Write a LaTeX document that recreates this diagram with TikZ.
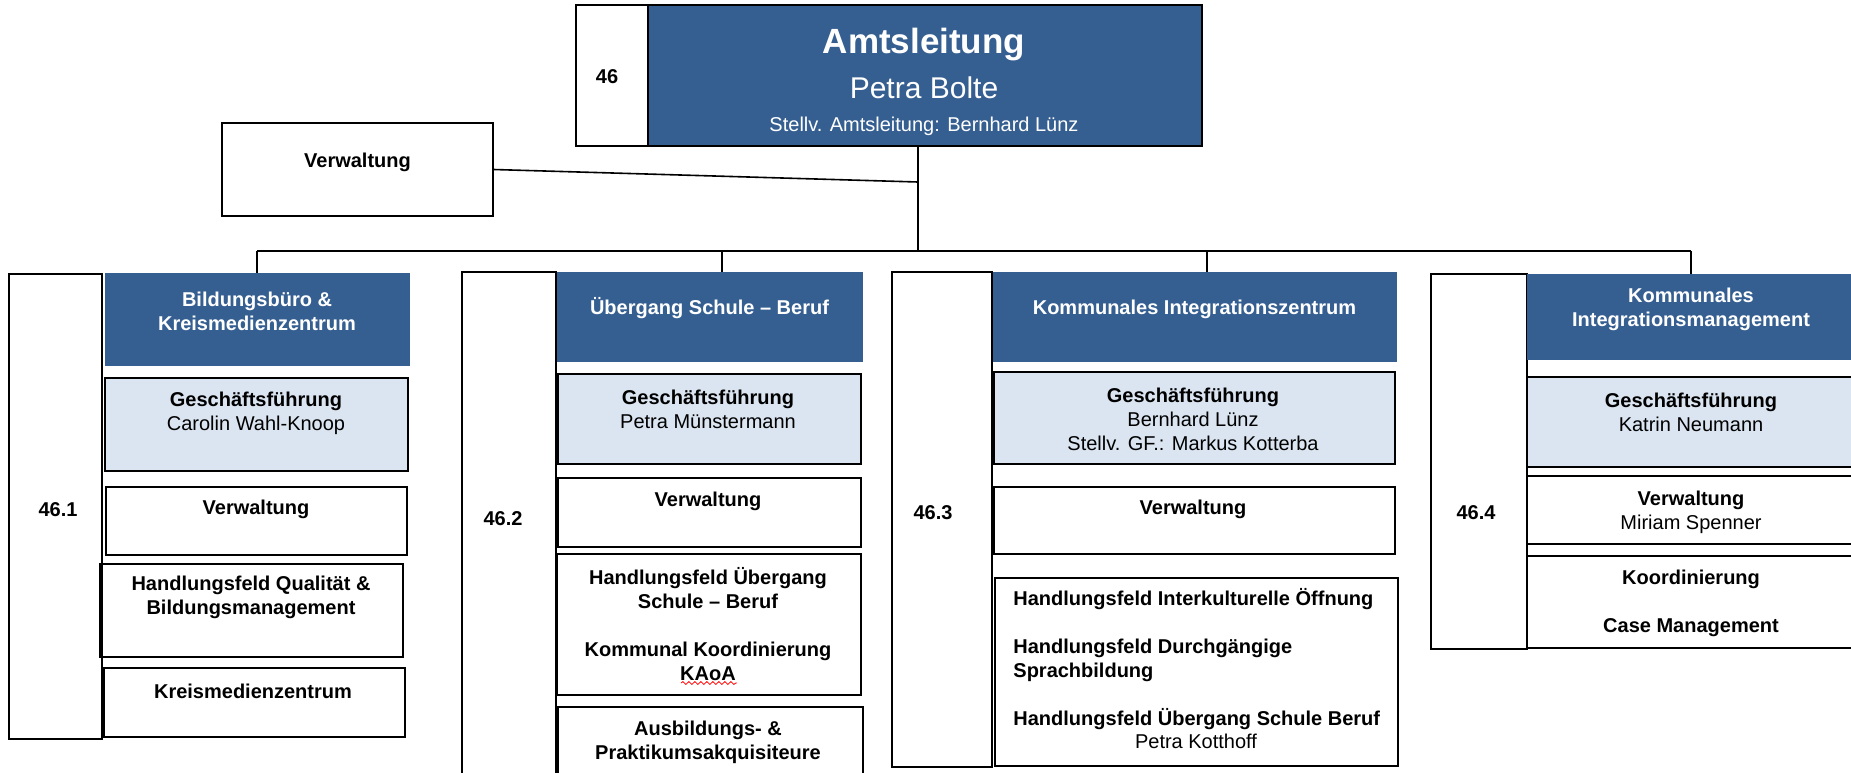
\documentclass[tikz,border=0pt]{standalone}
\usepackage{fontspec}
\setmainfont{Liberation Sans}
\usetikzlibrary{fit,decorations.pathmorphing}
\definecolor{amtblue}{HTML}{365F91}
\definecolor{gfblue}{HTML}{DBE5F1}
\begin{document}
\begin{tikzpicture}[x=0.5pt, y=-0.5pt,
  box/.style={draw, line width=0.7pt, inner sep=0pt},
  gfbox/.style={box, fill=gfblue},
  head/.style={fill=amtblue, draw=amtblue, inner sep=0pt, text=white,
    font=\bfseries, align=center},
  txt/.style={align=center},
  num/.style={font=\bfseries},
  link/.style={line width=0.8pt},
  drop/.style={line width=1.3pt}]
\useasboundingbox (0, 0) rectangle (1851, 772);
\clip (0, 0) rectangle (1851, 772);
\fill[white] (0, 0) rectangle (1851, 772);

% Amtsleitung
\node (n46) [box, fit={(576, 5) (648, 146)}] {};
\node (n46t) at (607, 77) [num] {46};
\node (amt) [box, fill=amtblue, fit={(648, 5) (1202, 146)}] {};
\node (amt1) at (924, 53) [anchor=base, text=white, font=\fontsize{17.5}{20}\selectfont\bfseries] {Amtsleitung};
\node (amt2) at (924, 98) [anchor=base, text=white, font=\fontsize{15}{18}\selectfont] {Petra Bolte};
\node (amt3) at (924, 131) [anchor=base, text=white] {Stellv. Amtsleitung: Bernhard Lünz};
\node (verw) [box, fit={(222, 123) (493, 216)}, font=\bfseries] {Verwaltung};

% 46.1
\node (num1) [box, fit={(9, 274) (102, 739)}] {};
\node (num1t) at (58, 510) [num] {46.1};
\node (h1) [head, fit={(105, 273) (409, 365)}] {Bildungsbüro \&\\Kreismedienzentrum};
\node (gf1) [gfbox, fit={(105, 378) (408, 471)}] {};
\node (gf1t) at (256, 413) [txt] {\textbf{Geschäftsführung}\\Carolin Wahl-Knoop};
\node (vw1) [box, fit={(106, 487) (407, 555)}] {};
\node (vw1t) at (256, 509) [txt, font=\bfseries] {Verwaltung};
\node (hq1) [box, fit={(100, 564) (403, 657)}] {};
\node (hq1t) at (251, 597) [txt, font=\bfseries] {Handlungsfeld Qualität \&\\Bildungsmanagement};
\node (km1) [box, fit={(104, 668) (405, 737)}] {};
\node (km1t) at (253, 691) [txt, font=\bfseries] {Kreismedienzentrum};

% 46.2
\node (num2) [box, fit={(462, 272) (556, 800)}] {};
\node (num2t) at (503, 519) [num] {46.2};
\node (h2) [head, fit={(557, 272) (862, 361)}] {Übergang Schule – Beruf};
\node (gf2) [gfbox, fit={(558, 374) (861, 464)}] {};
\node (gf2t) at (708, 409) [txt] {\textbf{Geschäftsführung}\\Petra Münstermann};
\node (vw2) [box, fit={(558, 478) (861, 547)}] {};
\node (vw2t) at (708, 501) [txt, font=\bfseries] {Verwaltung};
\node (hs2) [box, fit={(557, 554) (861, 695)}] {};
\node (hs2t) at (708, 624) [txt, font=\bfseries] {Handlungsfeld Übergang\\Schule – Beruf\\[12pt]Kommunal Koordinierung\\KAoA};
\draw[red, line width=0.4pt, decorate, decoration={snake, amplitude=0.7pt, segment length=3pt}] (681, 683) -- (737, 683);
\node (ab2) [box, fit={(558, 707) (863, 800)}] {};
\node (ab2t) at (708, 742) [txt, font=\bfseries] {Ausbildungs- \&\\Praktikumsakquisiteure};

% 46.3
\node (num3) [box, fit={(892, 272) (992, 767)}] {};
\node (num3t) at (933, 513) [num] {46.3};
\node (h3) [head, fit={(993, 272) (1396, 361)}] {Kommunales Integrationszentrum};
\node (gf3) [gfbox, fit={(994, 372) (1395, 464)}] {};
\node (gf3t) at (1193, 419) [txt] {\textbf{Geschäftsführung}\\Bernhard Lünz\\Stellv. GF.: Markus Kotterba};
\node (vw3) [box, fit={(994, 487) (1395, 554)}] {};
\node (vw3t) at (1193, 509) [txt, font=\bfseries] {Verwaltung};
\node (hf3) [box, fit={(995, 578) (1398, 766)}] {};
\node (hf3t) at (1013, 659) [anchor=west, inner sep=0pt, align=left, font=\bfseries] {Handlungsfeld Interkulturelle Öffnung\\[12pt]Handlungsfeld Durchgängige\\Sprachbildung\\[12pt]Handlungsfeld Übergang Schule Beruf};
\node (hf3p) at (1196, 741) [txt] {Petra Kotthoff};

% 46.4
\node (num4) [box, fit={(1431, 274) (1527, 649)}] {};
\node (num4t) at (1476, 513) [num] {46.4};
\node (h4) [head, fit={(1527, 274) (1855, 359)}] {Kommunales\\Integrationsmanagement};
\node (gf4) [gfbox, fit={(1527, 377) (1855, 467)}] {};
\node (gf4t) at (1691, 412) [txt] {\textbf{Geschäftsführung}\\Katrin Neumann};
\node (vw4) [box, fit={(1527, 476) (1855, 544)}] {};
\node (vw4t) at (1691, 512) [txt] {\textbf{Verwaltung}\\Miriam Spenner};
\node (ko4) [box, fit={(1527, 556) (1855, 648)}] {};
\node (ko4t) at (1691, 603) [txt, font=\bfseries] {Koordinierung\\[12pt]Case Management};

% Linien
\coordinate (jn) at (918, 251);
\coordinate (vj) at (918, 182);
\coordinate (d2) at (722, 251);
\coordinate (d3) at (1207, 251);
\draw[link] (jn |- amt.south) -- (jn);
\draw[link] (verw.east) -- (vj);
\draw[link] (h1.north |- jn) -- (h4.north |- jn);
\draw[drop] (h1.north |- jn) -- (h1.north);
\draw[drop] (d2) -- (d2 |- h2.north);
\draw[drop] (d3) -- (d3 |- h3.north);
\draw[drop] (h4.north |- jn) -- (h4.north);
\end{tikzpicture}
\end{document}
